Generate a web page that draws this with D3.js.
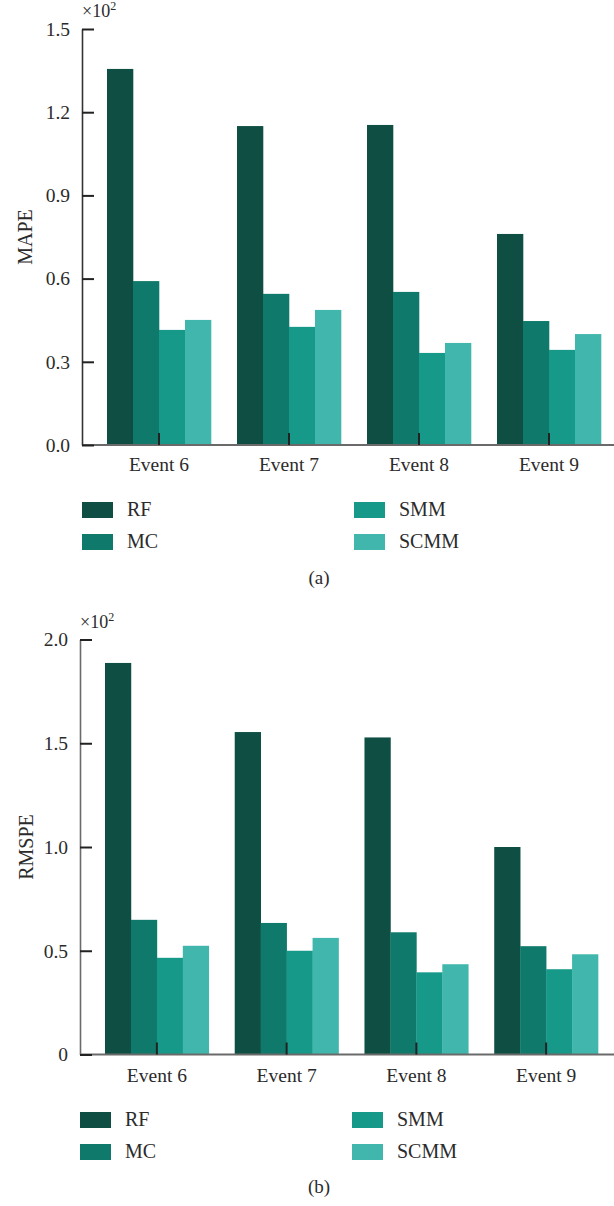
<!DOCTYPE html>
<html>
<head>
<meta charset="utf-8">
<script src="https://cdn.jsdelivr.net/npm/d3@7"></script>
<style>
  html, body { margin: 0; padding: 0; background: #fff; }
  svg { display: block; }
  text { font-family: "Liberation Serif", "DejaVu Serif", serif; fill: #2b2b2b; }
</style>
</head>
<body>
<svg id="chart" width="614" height="1206"></svg>
<script>
// Forecast error per event and method
const events = ["Event 6", "Event 7", "Event 8", "Event 9"];
const methods = ["RF", "MC", "SMM", "SCMM"];
const colors = ["#0e4e43", "#0f7a6b", "#17998a", "#41b6ac"];

// MAPE (×10²)
const mapeRF   = [1.356, 1.150, 1.154, 0.761];
const mapeMC   = [0.591, 0.545, 0.552, 0.447];
const mapeSMM  = [0.415, 0.426, 0.332, 0.343];
const mapeSCMM = [0.451, 0.487, 0.368, 0.400];
const mapeTicks = [0, 0.3, 0.6, 0.9, 1.2, 1.5];
const mapeTickLabels = ["0.0", "0.3", "0.6", "0.9", "1.2", "1.5"];

// RMSPE (×10²)
const rmspeRF   = [1.887, 1.554, 1.528, 1.000];
const rmspeMC   = [0.649, 0.634, 0.589, 0.522];
const rmspeSMM  = [0.466, 0.500, 0.396, 0.411];
const rmspeSCMM = [0.524, 0.562, 0.435, 0.483];
const rmspeTicks = [0, 0.5, 1.0, 1.5, 2.0];
const rmspeTickLabels = ["0", "0.5", "1.0", "1.5", "2.0"];

const svg = d3.select("#chart");
const FONT = "19.5px";

function drawPanel(opt) {
  const g = svg.append("g");
  const series = [opt.rf, opt.mc, opt.smm, opt.scmm];
  const rows = events.map((ev, i) => ({
    event: ev,
    values: methods.map((m, j) => ({ method: m, value: series[j][i] }))
  }));

  const x = d3.scaleBand().domain(events).range(opt.xRange)
    .paddingInner(0.2).paddingOuter(0.1);
  const xs = d3.scaleBand().domain(methods).range([0, x.bandwidth()]).padding(0);
  const y = d3.scaleLinear().domain([0, opt.yMax]).range([opt.y0, opt.y1]);

  // bars
  const grp = g.selectAll("g.grp").data(rows).join("g")
    .attr("class", "grp")
    .attr("transform", d => `translate(${x(d.event)},0)`);
  grp.selectAll("rect").data(d => d.values).join("rect")
    .attr("x", d => xs(d.method))
    .attr("width", xs.bandwidth() + 0.3)
    .attr("y", d => y(d.value))
    .attr("height", d => y(0) - y(d.value))
    .attr("fill", (d, j) => colors[j]);

  // x axis line
  g.append("line")
    .attr("x1", opt.axisX).attr("x2", 614)
    .attr("y1", y(0)).attr("y2", y(0))
    .attr("stroke", "#6a6a6a").attr("stroke-width", 2);

  // x axis ticks (inward) and labels
  const xAxis = d3.axisBottom(x).tickSize(0).tickPadding(0);
  const xg = g.append("g").attr("transform", `translate(0,${y(0)})`).call(xAxis);
  xg.select(".domain").remove();
  xg.selectAll(".tick text")
    .attr("y", opt.labelDy).attr("dy", 0)
    .style("font-size", FONT)
    .style("font-family", "Liberation Serif, serif")
    .attr("fill", "#2b2b2b");
  xg.selectAll(".tick").append("line")
    .attr("x1", 0).attr("x2", 0).attr("y1", 0).attr("y2", -12)
    .attr("stroke", "#222").attr("stroke-width", 2);

  // y axis
  const yAxis = d3.axisLeft(y).tickValues(opt.ticks)
    .tickFormat((d, i) => opt.tickLabels[i]).tickSize(0).tickPadding(12);
  const yg = g.append("g").attr("transform", `translate(${opt.axisX},0)`).call(yAxis);
  yg.select(".domain")
    .attr("stroke", opt.yAxisColor).attr("stroke-width", 1.6);
  yg.selectAll(".tick text")
    .style("font-size", FONT)
    .style("font-family", "Liberation Serif, serif")
    .attr("fill", "#2b2b2b");
  yg.selectAll(".tick").append("line")
    .attr("x1", 0).attr("x2", 12).attr("y1", 0).attr("y2", 0)
    .attr("stroke", "#222").attr("stroke-width", 2);

  // multiplier
  const mult = g.append("text")
    .attr("x", opt.axisX).attr("y", opt.y1 - 12)
    .style("font-size", "18px");
  mult.append("tspan").text("×10");
  mult.append("tspan").attr("dy", -7).style("font-size", "12px").text("2");

  // axis title
  g.append("text")
    .attr("transform", `translate(${opt.titleX},${(opt.y0 + opt.y1) / 2}) rotate(-90)`)
    .attr("text-anchor", "middle")
    .attr("dy", "0.35em")
    .style("font-size", "20px")
    .text(opt.title);

  // legend
  const lg = g.append("g");
  methods.forEach((m, j) => {
    const col = j < 2 ? 0 : 1;
    const row = j % 2;
    const lx = opt.legendX + col * 272;
    const ly = opt.legendY + row * 32;
    lg.append("rect").attr("x", lx).attr("y", ly)
      .attr("width", 31).attr("height", 16).attr("fill", colors[j]);
    lg.append("text").attr("x", lx + 45).attr("y", ly + 14)
      .style("font-size", "20px").text(m);
  });

  // panel caption
  g.append("text")
    .attr("x", 319).attr("y", opt.captionY)
    .attr("text-anchor", "middle")
    .style("font-size", "19px")
    .text(opt.caption);
}

drawPanel({
  rf: mapeRF, mc: mapeMC, smm: mapeSMM, scmm: mapeSCMM,
  ticks: mapeTicks, tickLabels: mapeTickLabels, yMax: 1.5,
  y0: 445, y1: 29, axisX: 82, xRange: [94, 614],
  yAxisColor: "#333", labelDy: 26, title: "MAPE", titleX: 25,
  legendX: 82, legendY: 502, caption: "(a)", captionY: 584
});

drawPanel({
  rf: rmspeRF, mc: rmspeMC, smm: rmspeSMM, scmm: rmspeSCMM,
  ticks: rmspeTicks, tickLabels: rmspeTickLabels, yMax: 2.0,
  y0: 1054.5, y1: 639.5, axisX: 80, xRange: [92, 611],
  yAxisColor: "#6a6a6a", labelDy: 27, title: "RMSPE", titleX: 26,
  legendX: 80, legendY: 1112, caption: "(b)", captionY: 1193
});
</script>
</body>
</html>
